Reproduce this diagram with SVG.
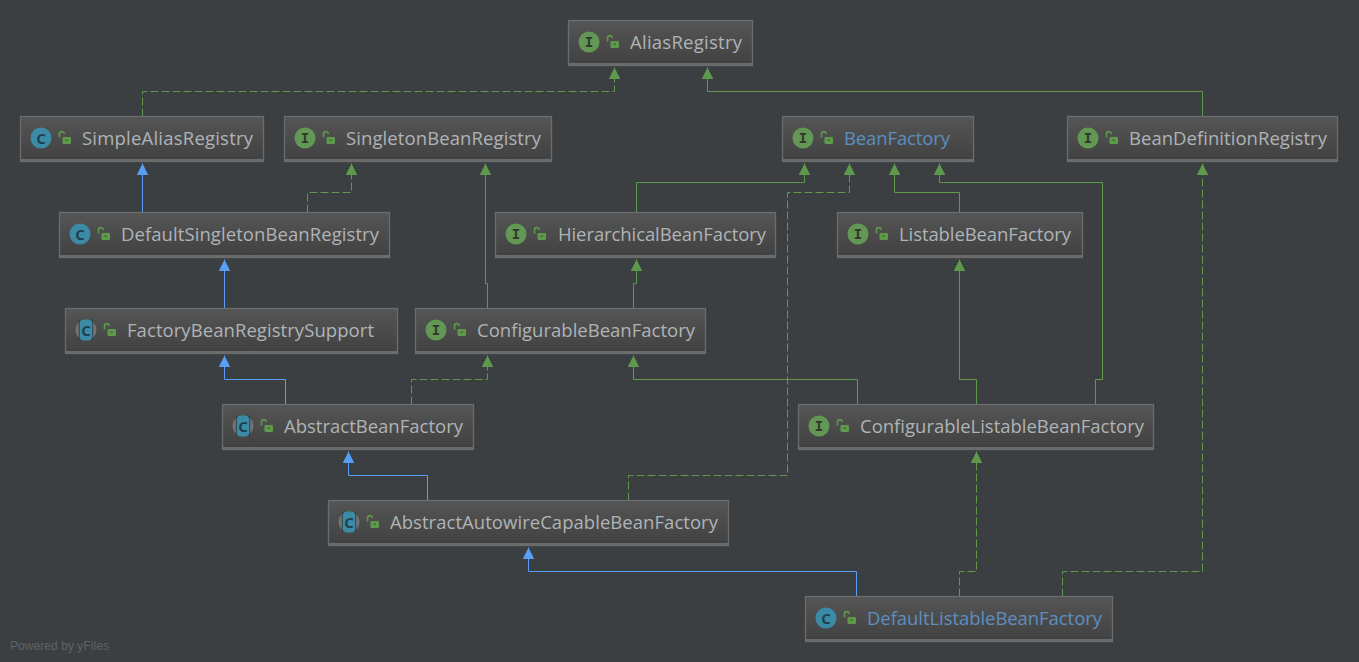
<svg xmlns="http://www.w3.org/2000/svg" xmlns:xlink="http://www.w3.org/1999/xlink" width="1359" height="662" viewBox="0 0 1359 662">
<style>
text{font-family:"Open Sans","Noto Sans","Liberation Sans",sans-serif}
.box{fill:url(#nodeFill);stroke:#6a6c6d;stroke-width:1.3}
.foot{fill:#696b6c}
.name{font-size:18.5px;fill:#afb4b7}
.link{fill:#5c8fc0}
.e{fill:none;stroke-width:1}
.g{stroke:#5f9a4c}
.b{stroke:#589df6}
.d{stroke-dasharray:8 3}
.ltr{font-family:"Liberation Mono",monospace;font-size:14px;font-weight:bold;text-anchor:middle}
.cl{font-size:15px;font-weight:bold;text-anchor:middle;fill:#20404f}
</style>
<defs>
<linearGradient id="nodeFill" x1="0" y1="0" x2="0" y2="1"><stop offset="0" stop-color="#555555"/><stop offset="1" stop-color="#414141"/></linearGradient>
<marker id="ag" markerWidth="13" markerHeight="13" refX="6" refY="0.500" orient="0" markerUnits="userSpaceOnUse"><path d="M0.250 12L6 0.500L11.750 12Z" fill="#5f9a4c"/></marker>
<marker id="ab" markerWidth="13" markerHeight="13" refX="6" refY="0.500" orient="0" markerUnits="userSpaceOnUse"><path d="M0.250 12L6 0.500L11.750 12Z" fill="#589df6"/></marker>
<g id="lock"><path d="M-5.500-0.500v-3.500a2.400 2.400 0 0 1 4.800 0" fill="none" stroke="#5f9a4c" stroke-width="1.600"/><rect x="-2.500" y="-1" width="8.500" height="7" rx="1.200" fill="#5f9a4c"/><rect x="0.500" y="1.500" width="2.400" height="1.200" fill="#3d5f33"/></g>
<g id="iI"><circle r="10.500" fill="#629755"/><text class="ltr" y="5" fill="#2f3a2b">I</text><use href="#lock" x="24"/></g>
<g id="iC"><circle r="10.500" fill="#3c8ba6"/><text class="cl" y="5.500">C</text><use href="#lock" x="24"/></g>
<g id="iA"><circle r="10.500" fill="#6f7479"/><rect x="-7.200" y="-10.500" width="14.400" height="21" fill="#3c3f41"/><rect x="-6.200" y="-10.500" width="12.400" height="21" rx="4" fill="#3c8ba6"/><text class="cl" y="5.500">C</text><use href="#lock" x="24"/></g>
</defs>
<rect width="1359" height="662" fill="#3c3f41"/>
<g id="connectors" transform="translate(0.500 0.500)">
<path class="e g d" marker-end="url(#ag)" d="M142 116V91H614V67"/>
<path class="e g" marker-end="url(#ag)" d="M1202 116V91H707V67"/>
<path class="e b" marker-end="url(#ab)" d="M142 212V163"/>
<path class="e g d" marker-end="url(#ag)" d="M307 212V192H351V163"/>
<path class="e g" marker-end="url(#ag)" d="M487 308V283H485V163"/>
<path class="e g" marker-end="url(#ag)" d="M636 212V182H804V163"/>
<path class="e g d" marker-end="url(#ag)" d="M628 500V475H787V192H849V163"/>
<path class="e g" marker-end="url(#ag)" d="M959 212V192H894V163"/>
<path class="e g" marker-end="url(#ag)" d="M1095 404V379H1102V182H939V163"/>
<path class="e g" marker-end="url(#ag)" d="M633 308V283H636V259"/>
<path class="e g" marker-end="url(#ag)" d="M976 404V379H959V259"/>
<path class="e g" marker-end="url(#ag)" d="M857 404V379H633V355"/>
<path class="e b" marker-end="url(#ab)" d="M224 308V259"/>
<path class="e b" marker-end="url(#ab)" d="M285 404V379H224V355"/>
<path class="e g d" marker-end="url(#ag)" d="M411 404V379H487V355"/>
<path class="e b" marker-end="url(#ab)" d="M427 500V475H348V451"/>
<path class="e b" marker-end="url(#ab)" d="M856 596V571H528V547"/>
<path class="e g d" marker-end="url(#ag)" d="M959 596V571H976V451"/>
<path class="e g d" marker-end="url(#ag)" d="M1062 596V571H1202V163"/>
</g>
<g id="AliasRegistry"><rect class="box" x="568.500" y="20.500" width="184" height="45"/><rect class="foot" x="569" y="63" width="183" height="2"/><use href="#iI" x="589" y="42"/><text class="name" x="630" y="49" textLength="112">AliasRegistry</text></g>
<g id="SimpleAliasRegistry"><rect class="box" x="20.500" y="116.500" width="243" height="45"/><rect class="foot" x="21" y="159" width="242" height="2"/><use href="#iC" x="41" y="138"/><text class="name" x="82" y="145" textLength="171">SimpleAliasRegistry</text></g>
<g id="SingletonBeanRegistry"><rect class="box" x="284.500" y="116.500" width="267" height="45"/><rect class="foot" x="285" y="159" width="266" height="2"/><use href="#iI" x="305" y="138"/><text class="name" x="346" y="145" textLength="195">SingletonBeanRegistry</text></g>
<g id="BeanFactory"><rect class="box" x="782.500" y="116.500" width="191" height="45"/><rect class="foot" x="783" y="159" width="190" height="2"/><use href="#iI" x="803" y="138"/><text class="name link" x="844" y="145" textLength="106">BeanFactory</text></g>
<g id="BeanDefinitionRegistry"><rect class="box" x="1067.500" y="116.500" width="270" height="45"/><rect class="foot" x="1068" y="159" width="269" height="2"/><use href="#iI" x="1088" y="138"/><text class="name" x="1129" y="145" textLength="198">BeanDefinitionRegistry</text></g>
<g id="DefaultSingletonBeanRegistry"><rect class="box" x="59.500" y="212.500" width="330" height="45"/><rect class="foot" x="60" y="255" width="329" height="2"/><use href="#iC" x="80" y="234"/><text class="name" x="121" y="241" textLength="258">DefaultSingletonBeanRegistry</text></g>
<g id="HierarchicalBeanFactory"><rect class="box" x="495.500" y="212.500" width="280" height="45"/><rect class="foot" x="496" y="255" width="279" height="2"/><use href="#iI" x="516" y="234"/><text class="name" x="558" y="241" textLength="208">HierarchicalBeanFactory</text></g>
<g id="ListableBeanFactory"><rect class="box" x="837.500" y="212.500" width="245" height="45"/><rect class="foot" x="838" y="255" width="244" height="2"/><use href="#iI" x="858" y="234"/><text class="name" x="899" y="241" textLength="172">ListableBeanFactory</text></g>
<g id="FactoryBeanRegistrySupport"><rect class="box" x="65.500" y="308.500" width="332" height="45"/><rect class="foot" x="66" y="351" width="331" height="2"/><use href="#iA" x="86" y="330"/><text class="name" x="127" y="337" textLength="247">FactoryBeanRegistrySupport</text></g>
<g id="ConfigurableBeanFactory"><rect class="box" x="415.500" y="308.500" width="290" height="45"/><rect class="foot" x="416" y="351" width="289" height="2"/><use href="#iI" x="436" y="330"/><text class="name" x="477" y="337" textLength="218">ConfigurableBeanFactory</text></g>
<g id="AbstractBeanFactory"><rect class="box" x="222.500" y="404.500" width="251" height="45"/><rect class="foot" x="223" y="447" width="250" height="2"/><use href="#iA" x="243" y="426"/><text class="name" x="284" y="433" textLength="179">AbstractBeanFactory</text></g>
<g id="ConfigurableListableBeanFactory"><rect class="box" x="798.500" y="404.500" width="355" height="45"/><rect class="foot" x="799" y="447" width="354" height="2"/><use href="#iI" x="819" y="426"/><text class="name" x="860" y="433" textLength="284">ConfigurableListableBeanFactory</text></g>
<g id="AbstractAutowireCapableBeanFactory"><rect class="box" x="328.500" y="500.500" width="400" height="45"/><rect class="foot" x="329" y="543" width="399" height="2"/><use href="#iA" x="349" y="522"/><text class="name" x="390" y="529" textLength="328">AbstractAutowireCapableBeanFactory</text></g>
<g id="DefaultListableBeanFactory"><rect class="box" x="805.500" y="596.500" width="307" height="45"/><rect class="foot" x="806" y="639" width="306" height="2"/><use href="#iC" x="826" y="618"/><text class="name link" x="867" y="625" textLength="235">DefaultListableBeanFactory</text></g>
<text x="10" y="650" font-size="12" fill="#5f6264" style="font-family:'Liberation Sans',sans-serif" textLength="99">Powered by yFiles</text>
</svg>
